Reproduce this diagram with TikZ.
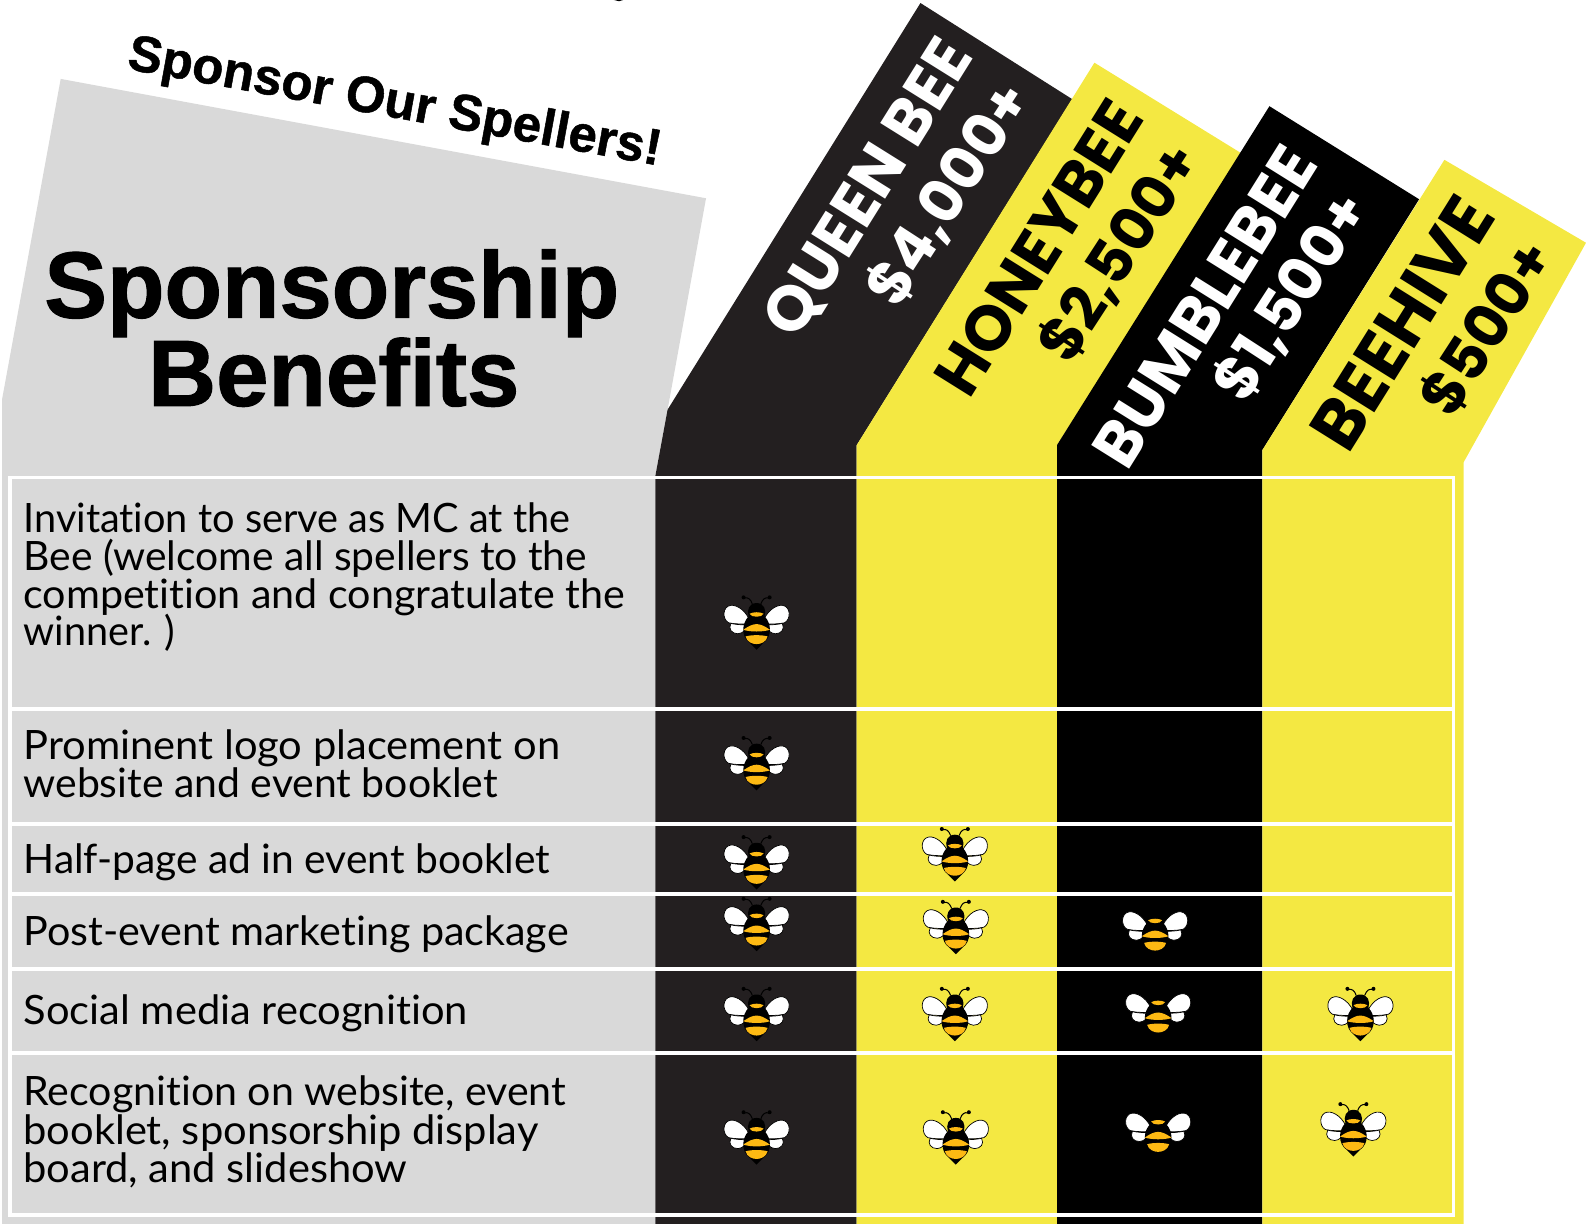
\documentclass[tikz,border=0pt]{standalone}
\usepackage{graphicx}
\usepackage{fontspec}
\setmainfont[Ligatures=NoCommon,FakeStretch=1.03]{Lato}
\newfontfamily\headfont{Poppins}
\newfontfamily\titlefont[FakeBold=1.2]{Liberation Sans}
\newfontfamily\sloganfont[FakeBold=1]{Liberation Sans}
\definecolor{panel}{HTML}{D9D9D9}
\definecolor{queen}{HTML}{231F20}
\definecolor{honey}{HTML}{F4E842}
\definecolor{beegold}{HTML}{FDB913}
\tikzset{
  body/.style={anchor=base west,inner sep=0pt,text=black,font=\fontsize{40}{40}\selectfont},
  tier/.style={inner sep=0pt,rotate=58,font=\headfont\bfseries\fontsize{63}{63}\selectfont},
  price/.style={inner sep=0pt,rotate=57,font=\headfont\bfseries\fontsize{59}{59}\selectfont},
  rule/.style={draw=white,line width=3.8pt},
  pics/bee/.style={code={
    \begin{scope}[scale=.33]
    \draw[black,line width=1pt,line cap=round] (-13,-58) .. controls (-18,-72) and (-26,-78) .. (-36,-75);
    \draw[black,line width=1pt,line cap=round] (13,-58) .. controls (18,-72) and (26,-78) .. (36,-75);
    \fill[black] (-39,-77) circle (6) (39,-77) circle (6);
    \foreach \s in {-1,1}{
      \filldraw[fill=white,draw=black,line width=.7pt,xscale=\s] (17,2) .. controls (28,-35) and (58,-56) .. (78,-53) .. controls (102,-50) and (104,-12) .. (84,-1) .. controls (60,4) and (40,3) .. (17,2) -- cycle;
      \filldraw[fill=white,draw=black,line width=.7pt,xscale=\s] (24,5) .. controls (45,6) and (65,4) .. (77,1) .. controls (86,18) and (74,32) .. (56,32) .. controls (42,31) and (30,20) .. (24,5) -- cycle;
    }
    \fill[black] (0,-60) .. controls (22,-60) and (30,-40) .. (24,-20) .. controls (44,0) and (48,40) .. (20,60) -- (0,80) -- (-20,60) .. controls (-48,40) and (-44,0) .. (-24,-20) .. controls (-30,-40) and (-22,-60) .. (0,-60) -- cycle;
    \fill[beegold] (-21,-28) .. controls (-10,-34) and (10,-34) .. (21,-28) .. controls (17,-16) and (-17,-16) .. (-21,-28) -- cycle;
    \fill[beegold] (-40,20) .. controls (-22,8) and (-14,4) .. (0,3) .. controls (14,4) and (22,8) .. (40,20) .. controls (20,27) and (-20,27) .. (-40,20) -- cycle;
    \fill[beegold] (-33,40) .. controls (-15,35) and (15,35) .. (33,40) .. controls (29,57) and (12,63) .. (0,63) .. controls (-12,63) and (-29,57) .. (-33,40) -- cycle;
    \end{scope}
  }}
}
\begin{document}
\begin{tikzpicture}[x=1pt,y=-1pt]
\useasboundingbox (0,0) rectangle (1568,1210);
% panels
\fill[panel] (2,395) -- (60,78) -- (698,196) -- (660,405) -- (648,470) -- (648,1210) -- (2,1210) -- cycle;
\fill[queen] (648,470) -- (660,405) -- (910,3) -- (1060,98) -- (847,440) -- (847,1210) -- (648,1210) -- cycle;
\fill[honey] (847,440) -- (1082,62) -- (1228,152) -- (1045,440) -- (1045,1210) -- (847,1210) -- cycle;
\fill[black] (1045,440) -- (1255,105) -- (1403,197) -- (1248,445) -- (1248,1210) -- (1045,1210) -- cycle;
\fill[honey] (1248,445) -- (1428,158) -- (1568,240) -- (1447,457) -- (1447,1210) -- (1248,1210) -- cycle;
\fill[black] (607,0) -- (616,0) -- (612,1.2) -- cycle;
% table rules
\draw[rule] (10,472) rectangle (1437,1201);
\foreach \yy in {701,815,884,958,1041} \draw[rule] (10,\yy) -- (1437,\yy);
% headings
\node[inner sep=0pt,rotate=-10.3,font=\sloganfont\bfseries\fontsize{50.4}{50}\selectfont] (slogan) at (390,103) {Sponsor Our Spellers!};
\node[inner sep=0pt,font=\titlefont\bfseries\fontsize{93}{93}\selectfont] (title1) at (328,290) {Sponsorship};
\node[inner sep=0pt,font=\titlefont\bfseries\fontsize{93}{93}\selectfont] (title2) at (330,368) {Benefits};
% tiers
\node[tier,text=white] (q1) at (860,187) {QUEEN BEE};
\node[price,text=white] (q2) at (938,192) {\$4,000+};
\node[tier,text=black] (h1) at (1027,245) {HONEYBEE};
\node[price,text=black] (h2) at (1107,250) {\$2,500+};
\node[tier,text=white] (b1) at (1191,303) {BUMBLEBEE};
\node[price,text=white] (b2) at (1277,294) {\$1,500+};
\node[tier,text=black,font=\headfont\bfseries\fontsize{69}{69}\selectfont] (v1) at (1386,319) {BEEHIVE};
\node[price,text=black] (v2) at (1470,324) {\$500+};
% benefits
\node[body] (a1) at (23,526) {\scalebox{.952}[1]{Invitation to serve as MC at the}};
\node[body] (a2) at (23,564) {\scalebox{.98}[1]{Bee (welcome all spellers to the}};
\node[body] (a3) at (23,602) {\scalebox{.99}[1]{competition and congratulate the}};
\node[body] (a4) at (23,638) {\scalebox{.95}[1]{winner. )}};
\node[body] (b1t) at (23,751) {Prominent logo placement on};
\node[body] (b2t) at (23,788) {\scalebox{.983}[1]{website and event booklet}};
\node[body] (c1) at (23,864) {\scalebox{.977}[1]{Half-page ad in event booklet}};
\node[body] (d1) at (23,935) {\scalebox{.99}[1]{Post-event marketing package}};
\node[body] (e1) at (23,1013) {Social media recognition};
\node[body] (f1) at (23,1093) {\scalebox{.987}[1]{Recognition on website, event}};
\node[body] (f2) at (23,1131) {booklet, sponsorship display};
\node[body] (f3) at (23,1169) {board, and slideshow};
% bees
\foreach \p in {(748,616),(748,755),(748,853),(944,845),(748,914),(945,917),(1142,919),(748,1003),(944,1003),(1145,1000),(1345,1003),(748,1125),(945,1125),(1145,1118),(1338,1117)}
  \pic at \p {bee};
\end{tikzpicture}
\end{document}
